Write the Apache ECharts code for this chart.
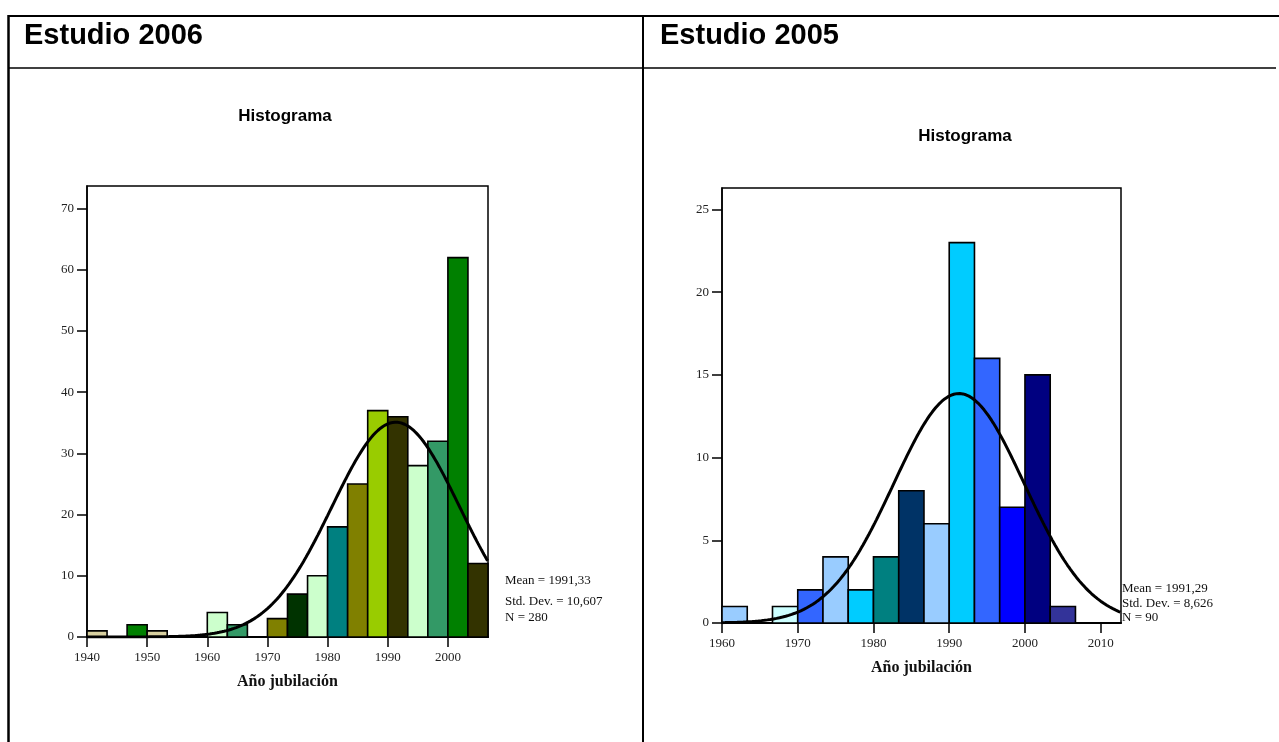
<!DOCTYPE html>
<html>
<head>
<meta charset="utf-8">
<title>Año jubilación – Histogramas</title>
<script src="https://cdn.jsdelivr.net/npm/echarts@6/dist/echarts.min.js"></script>
<style>
  html, body { margin: 0; padding: 0; background: #fff; }
  #chart { width: 1279px; height: 742px; }
</style>
</head>
<body>
<div id="chart"></div>
<script>
// ---- Estudio 2006 ----
const binWidth = 10 / 3;
const counts2006 = [1, 0, 2, 1, 0, 0, 4, 2, 0, 3, 7, 10, 18, 25, 37, 36, 28, 32, 62, 12];
const firstBin2006 = 1940;
const colors2006 = ['#d8d0a0', '#d8d0a0', '#008000', '#d8d0a0', '#ccffcc', '#ccffcc', '#ccffcc', '#339966',
                    '#808000', '#808000', '#003300', '#ccffcc', '#008080', '#808000', '#99cc00', '#333300',
                    '#ccffcc', '#339966', '#008000', '#333300'];
const stats2006 = { mean: 1991.33, sd: 10.607, n: 280 };
const xTicks2006 = [1940, 1950, 1960, 1970, 1980, 1990, 2000];
const yTicks2006 = [0, 10, 20, 30, 40, 50, 60, 70];

// ---- Estudio 2005 ----
const counts2005 = [1, 0, 1, 2, 4, 2, 4, 8, 6, 23, 16, 7, 15, 1];
const firstBin2005 = 1960;
const colors2005 = ['#99ccff', '#99ccff', '#ccffff', '#3366ff', '#99ccff', '#00ccff', '#008080', '#003366',
                    '#99ccff', '#00ccff', '#3366ff', '#0000ff', '#000080', '#333399'];
const stats2005 = { mean: 1991.29, sd: 8.626, n: 90 };
const xTicks2005 = [1960, 1970, 1980, 1990, 2000, 2010];
const yTicks2005 = [0, 5, 10, 15, 20, 25];

const statLines = s => [
  'Mean = ' + s.mean.toFixed(2).replace('.', ','),
  'Std. Dev. = ' + s.sd.toFixed(3).replace('.', ','),
  'N = ' + s.n
];

// histogram bins: [start, end, count, binIndex]
function bins(first, counts) {
  return counts.map((c, i) => [first + i * binWidth, first + (i + 1) * binWidth, c, i]);
}

// fitted normal curve scaled to counts per bin
function normalCurve(s, x0, x1) {
  const pts = [];
  const k = s.n * binWidth / (s.sd * Math.sqrt(2 * Math.PI));
  for (let x = x0; x <= x1 + 1e-9; x += 0.2) {
    const z = (x - s.mean) / s.sd;
    pts.push([x, k * Math.exp(-0.5 * z * z)]);
  }
  return pts;
}

function barRenderer(colors) {
  return function (params, api) {
    const count = api.value(2);
    if (!count) return null;
    const p0 = api.coord([api.value(0), count]);
    const p1 = api.coord([api.value(1), 0]);
    return {
      type: 'rect',
      shape: { x: p0[0], y: p0[1], width: p1[0] - p0[0], height: p1[1] - p0[1] },
      style: { fill: colors[api.value(3)], stroke: '#000', lineWidth: 1.6 }
    };
  };
}

const serif = '"Liberation Serif", "Times New Roman", serif';
const sans = '"Liberation Sans", Arial, sans-serif';

function xAxisDef(grid, min, max, ticks) {
  return {
    gridIndex: grid, type: 'value', min: min, max: max, interval: 10,
    axisLine: { show: true, onZero: false, lineStyle: { color: '#000', width: 2 } },
    axisTick: { show: true, inside: false, length: 10, customValues: ticks, lineStyle: { color: '#000', width: 1.5 } },
    axisLabel: { customValues: ticks, formatter: v => String(v), fontFamily: serif, fontSize: 13, color: '#222', margin: 14 },
    splitLine: { show: false },
    name: 'Año jubilación', nameLocation: 'middle', nameGap: 37,
    nameTextStyle: { fontFamily: serif, fontSize: 16, fontWeight: 'bold', color: '#111' }
  };
}

function yAxisDef(grid, max, step, ticks) {
  return {
    gridIndex: grid, type: 'value', min: 0, max: max, interval: step,
    axisLine: { show: true, lineStyle: { color: '#000', width: 1.5 } },
    axisTick: { show: true, inside: false, length: 10, customValues: ticks, lineStyle: { color: '#000', width: 1.5 } },
    axisLabel: { customValues: ticks, formatter: v => String(v), fontFamily: serif, fontSize: 13, color: '#222', margin: 13 },
    splitLine: { show: false }
  };
}

function statsText(x, y, s, gaps) {
  const lines = statLines(s);
  let yy = y;
  return lines.map((t, i) => {
    if (i > 0) yy += gaps[i - 1];
    return {
      type: 'text', left: x, top: yy,
      style: { text: t, font: '13px ' + serif, fill: '#111' }
    };
  });
}

const chart = echarts.init(document.getElementById('chart'), null, { renderer: 'canvas' });

chart.setOption({
  backgroundColor: '#fff',
  animation: false,
  grid: [
    { left: 87, top: 186, width: 401, height: 451, show: true, borderColor: '#000', borderWidth: 1.5, backgroundColor: 'transparent' },
    { left: 722, top: 188, width: 399, height: 435, show: true, borderColor: '#000', borderWidth: 1.5, backgroundColor: 'transparent' }
  ],
  xAxis: [
    xAxisDef(0, firstBin2006, firstBin2006 + counts2006.length * binWidth, xTicks2006),
    xAxisDef(1, firstBin2005, 2012.68, xTicks2005)
  ],
  yAxis: [
    yAxisDef(0, 73.7, 10, yTicks2006),
    yAxisDef(1, 26.3, 5, yTicks2005)
  ],
  series: [
    {
      type: 'custom', xAxisIndex: 0, yAxisIndex: 0,
      renderItem: barRenderer(colors2006),
      encode: { x: [0, 1], y: 2 },
      data: bins(firstBin2006, counts2006)
    },
    {
      type: 'line', xAxisIndex: 0, yAxisIndex: 0, showSymbol: false, clip: true,
      lineStyle: { color: '#000', width: 3 },
      data: normalCurve(stats2006, firstBin2006, firstBin2006 + counts2006.length * binWidth)
    },
    {
      type: 'custom', xAxisIndex: 1, yAxisIndex: 1,
      renderItem: barRenderer(colors2005),
      encode: { x: [0, 1], y: 2 },
      data: bins(firstBin2005, counts2005)
    },
    {
      type: 'line', xAxisIndex: 1, yAxisIndex: 1, showSymbol: false, clip: true,
      lineStyle: { color: '#000', width: 3 },
      data: normalCurve(stats2005, firstBin2005, 2012.68)
    }
  ],
  graphic: [
    // table frame
    { type: 'line', shape: { x1: 8, y1: 16, x2: 1279, y2: 16 }, style: { stroke: '#000', lineWidth: 2 } },
    { type: 'line', shape: { x1: 8.5, y1: 15, x2: 8.5, y2: 742 }, style: { stroke: '#000', lineWidth: 2.5 } },
    { type: 'line', shape: { x1: 643, y1: 15, x2: 643, y2: 742 }, style: { stroke: '#000', lineWidth: 2 } },
    { type: 'line', shape: { x1: 8, y1: 68, x2: 1276, y2: 68 }, style: { stroke: '#000', lineWidth: 1.5 } },
    // headers
    { type: 'text', left: 24, top: 21, style: { text: 'Estudio 2006', font: 'bold 29px ' + sans, fill: '#000' } },
    { type: 'text', left: 660, top: 21, style: { text: 'Estudio 2005', font: 'bold 29px ' + sans, fill: '#000' } },
    // chart titles
    { type: 'text', x: 285, y: 116, style: { text: 'Histograma', font: 'bold 17px ' + sans, fill: '#000', align: 'center', verticalAlign: 'middle' } },
    { type: 'text', x: 965, y: 136, style: { text: 'Histograma', font: 'bold 17px ' + sans, fill: '#000', align: 'center', verticalAlign: 'middle' } }
  ]
    .concat(statsText(505, 574, stats2006, [21, 16]))
    .concat(statsText(1122, 582, stats2005, [15, 14]))
});
</script>
</body>
</html>
